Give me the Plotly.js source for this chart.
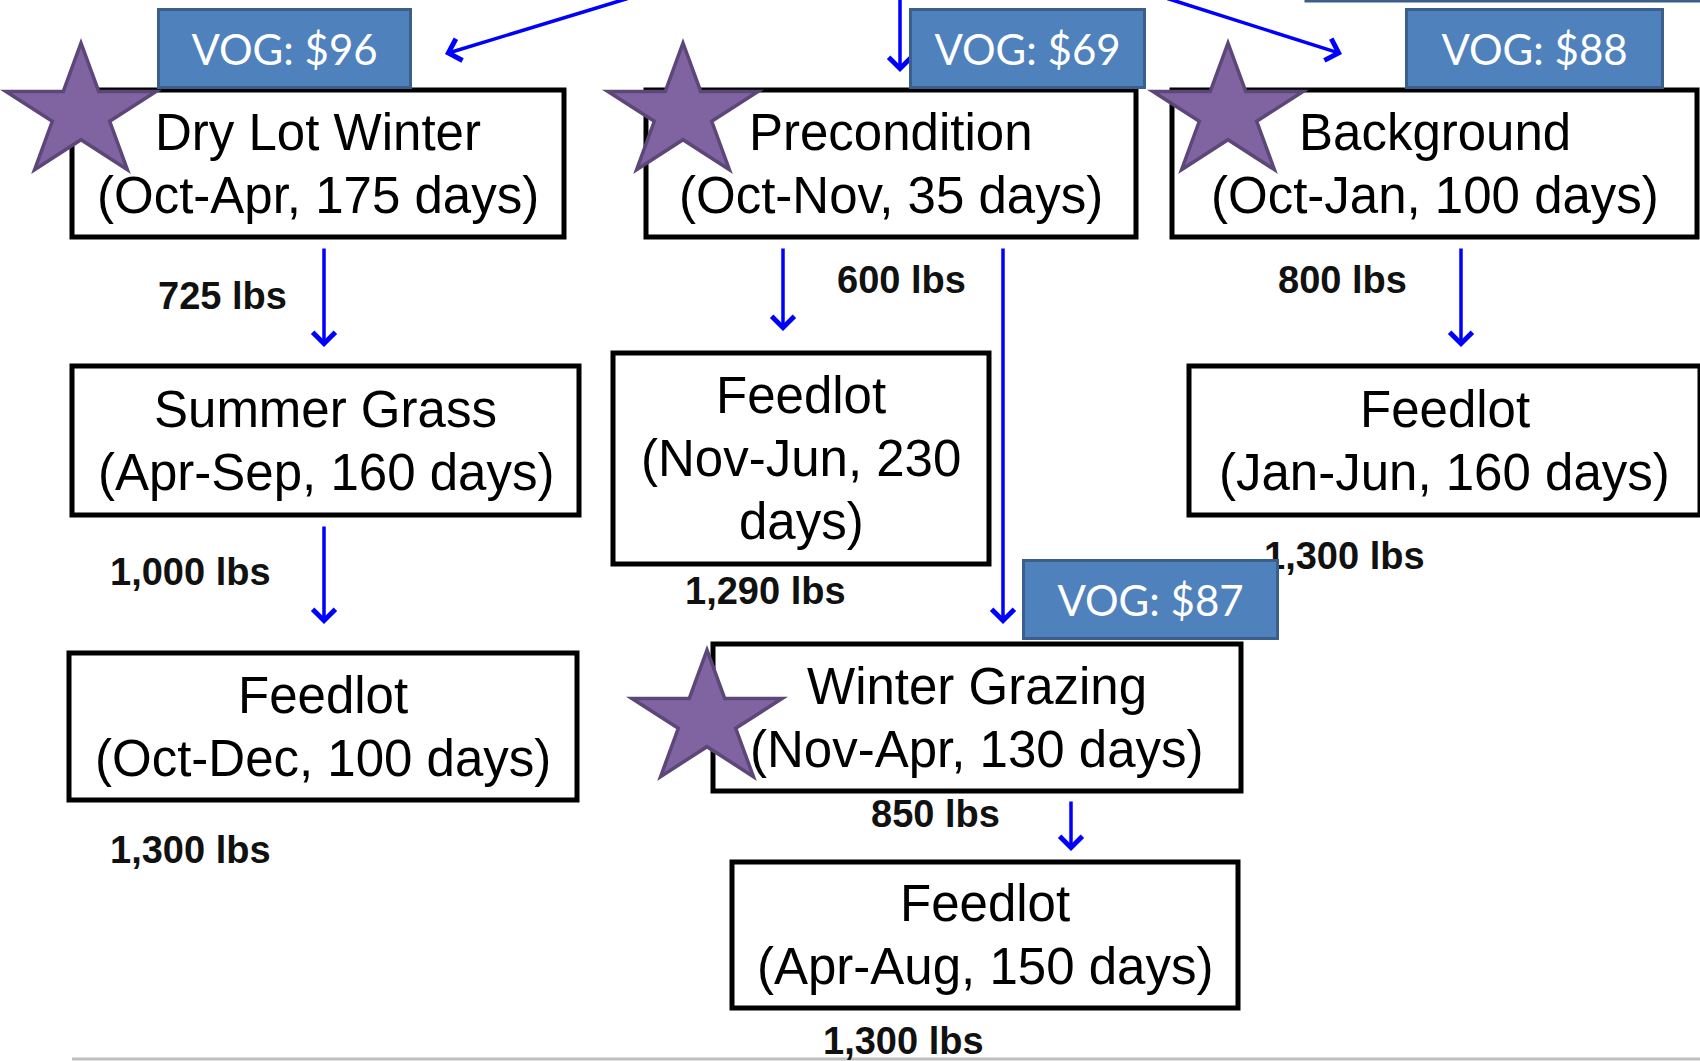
<!DOCTYPE html>
<html>
<head>
<meta charset="utf-8">
<script src="https://cdn.plot.ly/plotly-3.0.1.min.js"></script>
<style>html,body{margin:0;padding:0;background:#fff;}#chart{width:1700px;height:1061px;}</style>
</head>
<body>
<div id="chart"></div>
<script>
// ---- data ----
const stageNames  = ["Dry Lot Winter", "Summer Grass", "Feedlot", "Precondition", "Feedlot", "Winter Grazing", "Feedlot", "Background", "Feedlot"];
const stageMonths = ["Oct-Apr", "Apr-Sep", "Oct-Dec", "Oct-Nov", "Nov-Jun", "Nov-Apr", "Apr-Aug", "Oct-Jan", "Jan-Jun"];
const stageDays   = [175, 160, 100, 35, 230, 130, 150, 100, 160];
const exitWeights = [725, 1000, 1300, 600, 1290, 850, 1300, 800, 1300]; // lbs leaving each stage
const vogStages   = [0, 3, 7, 5];      // stages with a value-of-gain tag (starred)
const vogValues   = [96, 69, 88, 87];  // $ value of gain
const flowFrom    = [0, 1, 3, 3, 5, 7];
const flowTo      = [1, 2, 4, 5, 6, 8];

// ---- layout geometry (pixels, y down) ----
const boxGeom = [
  [72, 564, 90, 237], [72, 579, 366, 515], [69, 577, 653, 800],
  [646, 1136, 90, 237], [613, 989, 353, 564], [713, 1241, 644, 791], [732, 1238, 862, 1008],
  [1172, 1697, 90, 237], [1189, 1700, 366, 515]
];
const wrapAfterNumber = [false, false, false, false, true, false, false, false, false];
const weightPos = [[222, 296], [190, 572], [190, 850], [901, 280], [765, 591], [935, 814], [903, 1041], [1342, 280], [1344, 556]];
const vogGeom = [[157, 412, 8, 89], [909, 1146, 8, 89], [1405, 1664, 8, 89], [1022, 1279, 559, 640]];
const starTops = [[81, 43], [683, 43], [1228, 43], [707, 650]];
const flowArrows = [[324, 247, 324, 347], [324, 525, 324, 624], [783, 247, 783, 331], [1003, 247, 1003, 624], [1071, 800, 1071, 851], [1461, 247, 1461, 347]];
const topArrows = [[629, -2, 445, 54], [900, -2, 900, 72], [1166, -2, 1342, 54]];

const BOXFONT = {family: "'Liberation Sans', Arimo, Arial, sans-serif", size: 51, color: "#000"};
const LBSFONT = {family: "'Liberation Sans', Arimo, Arial, sans-serif", size: 38, color: "#111"};
const VOGFONT = {family: "Lato, 'Noto Sans', sans-serif", size: 42, color: "#fff"};
const LINE_GAP = 63;

const shapes = [];
const annotations = [];

// stage boxes
stageNames.forEach((name, i) => {
  const [x0, x1, y0, y1] = boxGeom[i];
  shapes.push({type: "rect", xref: "x", yref: "y", x0, x1, y0, y1,
    line: {color: "#000", width: 5}, fillcolor: "#fff", layer: "above"});
  let lines;
  if (wrapAfterNumber[i]) lines = [name, "(" + stageMonths[i] + ", " + stageDays[i], "days)"];
  else lines = [name, "(" + stageMonths[i] + ", " + stageDays[i] + " days)"];
  const cx = (x0 + x1) / 2, cy = (y0 + y1) / 2;
  lines.forEach((t, k) => {
    annotations.push({xref: "x", yref: "y", x: cx, y: cy + (k - (lines.length - 1) / 2) * LINE_GAP,
      text: t, showarrow: false, font: BOXFONT, xanchor: "center", yanchor: "middle"});
  });
});

// stars
function starPath(cx, top, rx, ry) {
  const cy = top + ry;
  let p = "";
  for (let i = 0; i < 10; i++) {
    const a = (-90 + 36 * i) * Math.PI / 180;
    const f = i % 2 === 0 ? 1 : 0.382;
    const x = cx + rx * f * Math.cos(a), y = cy + ry * f * Math.sin(a);
    p += (i === 0 ? "M" : "L") + x.toFixed(1) + "," + y.toFixed(1);
  }
  return p + "Z";
}
vogStages.forEach((s, k) => {
  const [cx, top] = starTops[k];
  shapes.push({type: "path", xref: "x", yref: "y", path: starPath(cx, top, 79, 70),
    fillcolor: "#8064A2", line: {color: "#5C4778", width: 3.5}, layer: "above"});
});

// partial blue box at top right edge
shapes.push({type: "rect", xref: "x", yref: "y", x0: 1306, x1: 1720, y0: -90, y1: 1,
  fillcolor: "#4F81BD", line: {color: "#3A5F8B", width: 3}, layer: "above"});

// bottom rule
shapes.push({type: "line", xref: "x", yref: "y", x0: 72, x1: 1700, y0: 1059, y1: 1059,
  line: {color: "#BFBFBF", width: 3}, layer: "above"});

// weight labels
exitWeights.forEach((w, i) => {
  annotations.push({xref: "x", yref: "y", x: weightPos[i][0], y: weightPos[i][1],
    text: "<b>" + w.toLocaleString("en-US") + " lbs</b>", showarrow: false, font: LBSFONT,
    xanchor: "center", yanchor: "middle"});
});

// flow arrows
const ARROW = {showarrow: true, arrowhead: 4, arrowsize: 1.25, arrowwidth: 3.5, arrowcolor: "#0000FF", text: ""};
flowFrom.forEach((f, k) => {
  const [ax, ay, x, y] = flowArrows[k];
  annotations.push(Object.assign({xref: "x", yref: "y", axref: "x", ayref: "y", x, y, ax, ay}, ARROW));
});
topArrows.forEach(([ax, ay, x, y]) => {
  annotations.push(Object.assign({xref: "x", yref: "y", axref: "x", ayref: "y", x, y, ax, ay}, ARROW));
});

// VOG tags (drawn last so they cover what lies beneath)
vogValues.forEach((v, k) => {
  const [x0, x1, y0, y1] = vogGeom[k];
  annotations.push({xref: "x", yref: "y", x: (x0 + x1) / 2, y: (y0 + y1) / 2,
    text: "VOG: $" + v, showarrow: false, font: VOGFONT,
    width: x1 - x0 - 6, height: y1 - y0 - 6, borderpad: 0, borderwidth: 3,
    bgcolor: "#4F81BD", bordercolor: "#3A5F8B", align: "center", valign: "middle",
    xanchor: "center", yanchor: "middle"});
});

const layout = {
  width: 1700, height: 1061,
  margin: {l: 0, r: 0, t: 0, b: 0},
  paper_bgcolor: "#fff", plot_bgcolor: "#fff",
  showlegend: false,
  xaxis: {range: [0, 1700], visible: false, fixedrange: true},
  yaxis: {range: [1061, 0], visible: false, fixedrange: true},
  shapes, annotations
};

Plotly.newPlot("chart", [{x: [], y: [], type: "scatter", mode: "markers", hoverinfo: "skip"}], layout,
  {displayModeBar: false, staticPlot: true});
</script>
</body>
</html>
